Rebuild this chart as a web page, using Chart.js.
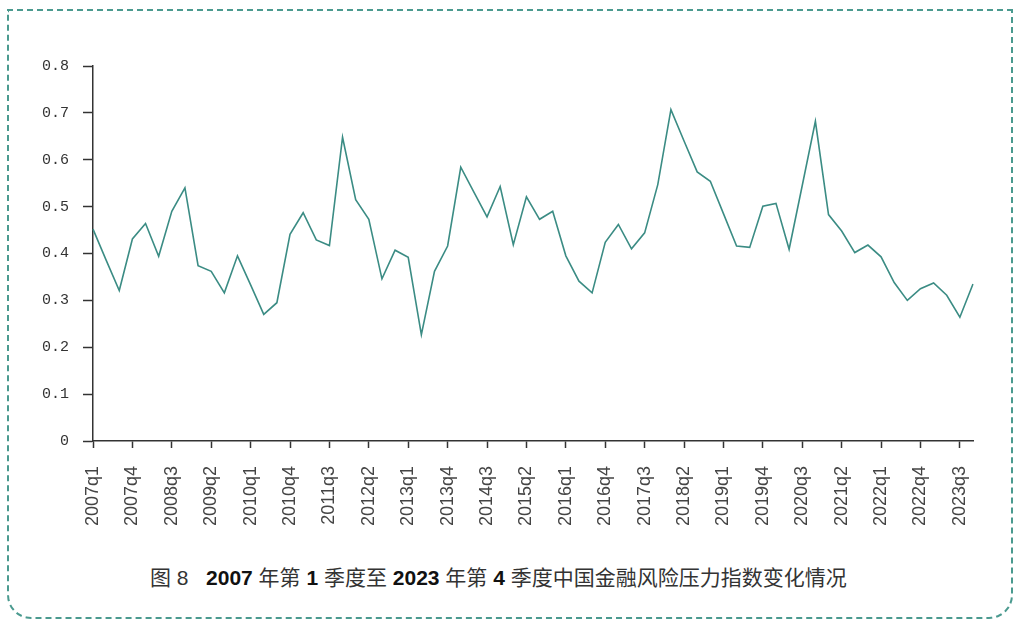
<!DOCTYPE html>
<html>
<head>
<meta charset="utf-8">
<script src="https://cdn.jsdelivr.net/npm/chart.js@4.4.1/dist/chart.umd.min.js"></script>
<style>
  body { margin: 0; background: #fff; width: 1020px; height: 633px; overflow: hidden; position: relative; }
  #frame {
    position: absolute; left: 7px; top: 9px; width: 1006px; height: 610px;
    box-sizing: border-box;
    border: 2px dashed #4a9a8f;
    border-radius: 0 0 24px 24px;
  }
  #wrap { position: absolute; left: 0; top: 0; width: 1020px; height: 545px; }
  #caption {
    position: absolute; left: 150px; top: 561px;
    font-family: "Liberation Sans", "Noto Sans CJK SC", sans-serif;
    font-size: 21px; color: #333; white-space: pre;
  }
  #caption b { color: #111; }
</style>
</head>
<body>
<div id="frame"></div>
<div id="wrap"><canvas id="stressChart"></canvas></div>
<div id="caption">图 8   <b>2007</b> 年第 <b>1</b> 季度至 <b>2023</b> 年第 <b>4</b> 季度中国金融风险压力指数变化情况</div>

<script>
// quarters 2007q1 .. 2023q4
const years = [2007, 2008, 2009, 2010, 2011, 2012, 2013, 2014, 2015, 2016, 2017, 2018, 2019, 2020, 2021, 2022, 2023];
const quarterNames = ['q1', 'q2', 'q3', 'q4'];
const labels = [];
years.forEach((y) => quarterNames.forEach((q) => labels.push(y + q)));

// stress index
const stressIndex = [
  0.452, 0.386, 0.321, 0.431, 0.464, 0.394, 0.490, 0.540,
  0.374, 0.362, 0.316, 0.395, 0.333, 0.270, 0.295, 0.441,
  0.487, 0.429, 0.417, 0.648, 0.515, 0.473, 0.346, 0.407,
  0.392, 0.227, 0.362, 0.416, 0.584, 0.531, 0.478, 0.543,
  0.419, 0.521, 0.473, 0.490, 0.395, 0.341, 0.316, 0.424,
  0.462, 0.410, 0.444, 0.547, 0.707, 0.640, 0.574, 0.554,
  0.485, 0.416, 0.413, 0.501, 0.507, 0.409, 0.545, 0.682,
  0.483, 0.448, 0.402, 0.418, 0.393, 0.338, 0.300, 0.325,
  0.337, 0.311, 0.264, 0.335,
];

// axis setup
const yMin = 0;
const yMax = 0.8;
const yStep = 0.1;
const labelEvery = 3; // a label every third quarter

const axisColor = '#333';

const ctx = document.getElementById('stressChart').getContext('2d');
new Chart(ctx, {
  type: 'line',
  data: {
    labels: labels,
    datasets: [
      {
        label: '金融风险压力指数',
        data: stressIndex,
        borderColor: '#3b8c84',
        borderWidth: 1.6,
        pointRadius: 0,
        tension: 0,
        fill: false,
      },
    ],
  },
  options: {
    responsive: true,
    maintainAspectRatio: false,
    animation: false,
    layout: { padding: { left: 0, top: 66, right: 47, bottom: 0 } },
    plugins: {
      legend: { display: false },
      tooltip: { enabled: false },
    },
    scales: {
      x: {
        type: 'category',
        offset: false,
        afterFit: (scale) => { scale.height = 104; },
        border: { display: true, color: axisColor, width: 1.5 },
        grid: {
          drawOnChartArea: false,
          drawTicks: true,
          tickLength: 7,
          tickWidth: 1.5,
          tickColor: axisColor,
        },
        ticks: {
          autoSkip: false,
          minRotation: 90,
          maxRotation: 90,
          padding: 18,
          color: '#444',
          font: { family: '"Liberation Sans", Arial, sans-serif', size: 18 },
          callback: function (val, i) {
            return i % labelEvery === 0 ? this.getLabelForValue(val) : null;
          },
        },
      },
      y: {
        min: yMin,
        max: yMax,
        afterFit: (scale) => { scale.width = 93; },
        border: { display: true, color: axisColor, width: 1.5 },
        grid: {
          drawOnChartArea: false,
          drawTicks: true,
          tickLength: 10,
          tickWidth: 1.5,
          tickColor: axisColor,
        },
        ticks: {
          stepSize: yStep,
          padding: 14,
          color: '#333',
          font: { family: '"Liberation Mono", "DejaVu Sans Mono", monospace', size: 15 },
          callback: (v) => (v === 0 ? '0' : v.toFixed(1)),
        },
      },
    },
  },
});
</script>
</body>
</html>
